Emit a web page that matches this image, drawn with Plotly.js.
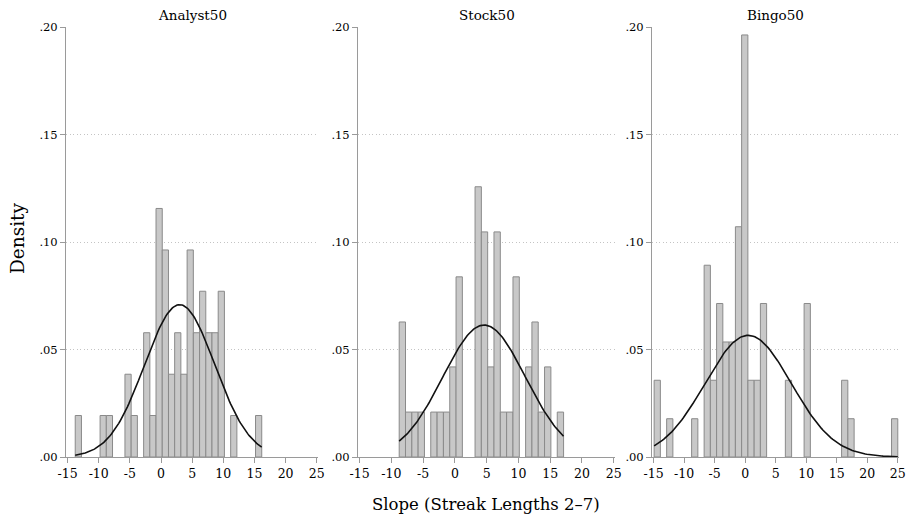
<!DOCTYPE html>
<html><head><meta charset="utf-8">
<script src="https://cdn.plot.ly/plotly-3.0.1.min.js"></script>
<style>html,body{margin:0;padding:0;background:#fff}</style>
</head><body><div id="chart" style="width:910px;height:522px"></div>
<script>
// ---- data ----
const panelTitles = ['Analyst50', 'Stock50', 'Bingo50'];

// bin centers and densities
const analystBins = [-13.27, -9.28, -8.28, -5.29, -4.29, -2.29, -1.30, -0.30, 0.70, 1.70, 2.69, 3.69, 4.69, 5.69, 6.69, 7.69, 8.68, 9.68, 11.68, 15.67];
const analystDensity = [0.0193, 0.0193, 0.0193, 0.0385, 0.0193, 0.0578, 0.0193, 0.1156, 0.0963, 0.0385, 0.0578, 0.0385, 0.0963, 0.0578, 0.0771, 0.0578, 0.0578, 0.0771, 0.0193, 0.0193];
const analystBinWidth = 0.998;

const stockBins = [-8.27, -7.28, -6.28, -5.29, -3.30, -2.30, -1.31, -0.31, 0.68, 3.67, 4.66, 5.66, 6.65, 7.65, 8.64, 9.64, 11.63, 12.62, 13.62, 14.61, 16.61];
const stockDensity = [0.0628, 0.0209, 0.0209, 0.0209, 0.0209, 0.0209, 0.0209, 0.0419, 0.0838, 0.1257, 0.1047, 0.0419, 0.1047, 0.0209, 0.0209, 0.0838, 0.0419, 0.0628, 0.0209, 0.0419, 0.0209];
const stockBinWidth = 0.995;

const bingoBins = [-14.39, -12.34, -8.25, -6.20, -5.18, -4.16, -3.13, -2.11, -1.08, -0.06, 0.97, 1.99, 3.01, 7.10, 10.17, 16.31, 17.34, 24.49];
const bingoDensity = [0.0357, 0.0178, 0.0178, 0.0892, 0.0357, 0.0714, 0.0535, 0.0535, 0.1071, 0.1963, 0.0357, 0.0357, 0.0714, 0.0357, 0.0714, 0.0357, 0.0178, 0.0178];
const bingoBinWidth = 1.023;

// fitted normal overlays: mean, sd, and data span
const analystNormal = {mean: 3.0, sd: 5.63, min: -13.77, max: 16.16};
const stockNormal   = {mean: 4.6, sd: 6.5,  min: -8.77,  max: 17.1};
const bingoNormal   = {mean: 0.5, sd: 7.05, min: -14.9,  max: 25.0};

const xTickVals = [-15, -10, -5, 0, 5, 10, 15, 20, 25];
const xTickLabels = ['-15', '-10', '-5', '0', '5', '10', '15', '20', '25'];
const yTickVals = [0, 0.05, 0.10, 0.15, 0.20];
const yTickLabels = ['.00', '.05', '.10', '.15', '.20'];

const xTitle = 'Slope (Streak Lengths 2\u20137)';
const yTitle = 'Density';

// ---- build ----
function normalCurve(p) {
  const xs = [], ys = [];
  const n = 150;
  for (let i = 0; i <= n; i++) {
    const x = p.min + (p.max - p.min) * i / n;
    const z = (x - p.mean) / p.sd;
    xs.push(x);
    ys.push(Math.exp(-0.5 * z * z) / (p.sd * Math.sqrt(2 * Math.PI)));
  }
  return {xs, ys};
}

const panels = [
  {bins: analystBins, dens: analystDensity, w: analystBinWidth, norm: analystNormal},
  {bins: stockBins, dens: stockDensity, w: stockBinWidth, norm: stockNormal},
  {bins: bingoBins, dens: bingoDensity, w: bingoBinWidth, norm: bingoNormal}
];

const FONT = 'DejaVu Serif, Liberation Serif, serif';
const traces = [];
panels.forEach((p, i) => {
  const xa = i === 0 ? 'x' : 'x' + (i + 1);
  const ya = i === 0 ? 'y' : 'y' + (i + 1);
  traces.push({
    type: 'bar', x: p.bins, y: p.dens, width: p.w, xaxis: xa, yaxis: ya,
    marker: {color: '#c8c8c8', line: {color: '#8a8a8a', width: 1}},
    hoverinfo: 'x+y', showlegend: false
  });
  const c = normalCurve(p.norm);
  traces.push({
    type: 'scatter', mode: 'lines', x: c.xs, y: c.ys, xaxis: xa, yaxis: ya,
    line: {color: '#111', width: 1.6}, showlegend: false, hoverinfo: 'skip'
  });
});

const W = 910, H = 522;
const xDomPx = [[66, 318], [358, 615], [652, 899]];
const yDom = [(H - 457) / H, (H - 27) / H];

const layout = {
  width: W, height: H,
  margin: {l: 0, r: 0, t: 0, b: 0},
  paper_bgcolor: '#fff', plot_bgcolor: '#fff',
  bargap: 0,
  font: {family: FONT, color: '#111', size: 10},
  annotations: [],
  showlegend: false
};

xDomPx.forEach((d, i) => {
  const sx = i === 0 ? 'xaxis' : 'xaxis' + (i + 1);
  const sy = i === 0 ? 'yaxis' : 'yaxis' + (i + 1);
  const yid = i === 0 ? 'y' : 'y' + (i + 1);
  const xid = i === 0 ? 'x' : 'x' + (i + 1);
  layout[sx] = {
    domain: [d[0] / W, d[1] / W], anchor: yid,
    range: [-15.25, 25.2], fixedrange: true,
    tickmode: 'array', tickvals: xTickVals, ticktext: xTickLabels,
    ticks: 'outside', ticklen: 5, tickcolor: '#9a9a9a', tickwidth: 1,
    showline: true, linecolor: '#9a9a9a', linewidth: 1,
    showgrid: false, zeroline: false, ticklabeloverflow: 'allow',
    tickfont: {family: FONT, size: 12.5, color: '#000'}
  };
  layout[sy] = {
    domain: yDom, anchor: xid,
    range: [0, 0.2], fixedrange: true,
    tickmode: 'array', tickvals: yTickVals, ticktext: yTickLabels,
    ticks: 'outside', ticklen: 5, tickcolor: '#9a9a9a', tickwidth: 1,
    showline: true, linecolor: '#9a9a9a', linewidth: 1,
    showgrid: true, gridcolor: '#c4c4c4', gridwidth: 1, griddash: '1px,2.5px',
    zeroline: false,
    tickfont: {family: FONT, size: 11.5, color: '#000'}
  };
  layout.annotations.push({
    text: panelTitles[i], xref: 'paper', yref: 'paper',
    x: (d[0] + d[1]) / 2 / W, y: (H - 15) / H,
    xanchor: 'center', yanchor: 'middle', showarrow: false,
    font: {family: FONT, size: 13.5, color: '#000'}
  });
});

layout.annotations.push({
  text: xTitle, xref: 'paper', yref: 'paper',
  x: 486 / W, y: (H - 504) / H, xanchor: 'center', yanchor: 'middle',
  showarrow: false, font: {family: FONT, size: 16.5, color: '#000'}
});
layout.annotations.push({
  text: yTitle, xref: 'paper', yref: 'paper', textangle: -90,
  x: 18 / W, y: (H - 238) / H, xanchor: 'center', yanchor: 'middle',
  showarrow: false, font: {family: FONT, size: 18.5, color: '#000'}
});

Plotly.newPlot('chart', traces, layout, {displayModeBar: false, staticPlot: true});
</script>
</body></html>
